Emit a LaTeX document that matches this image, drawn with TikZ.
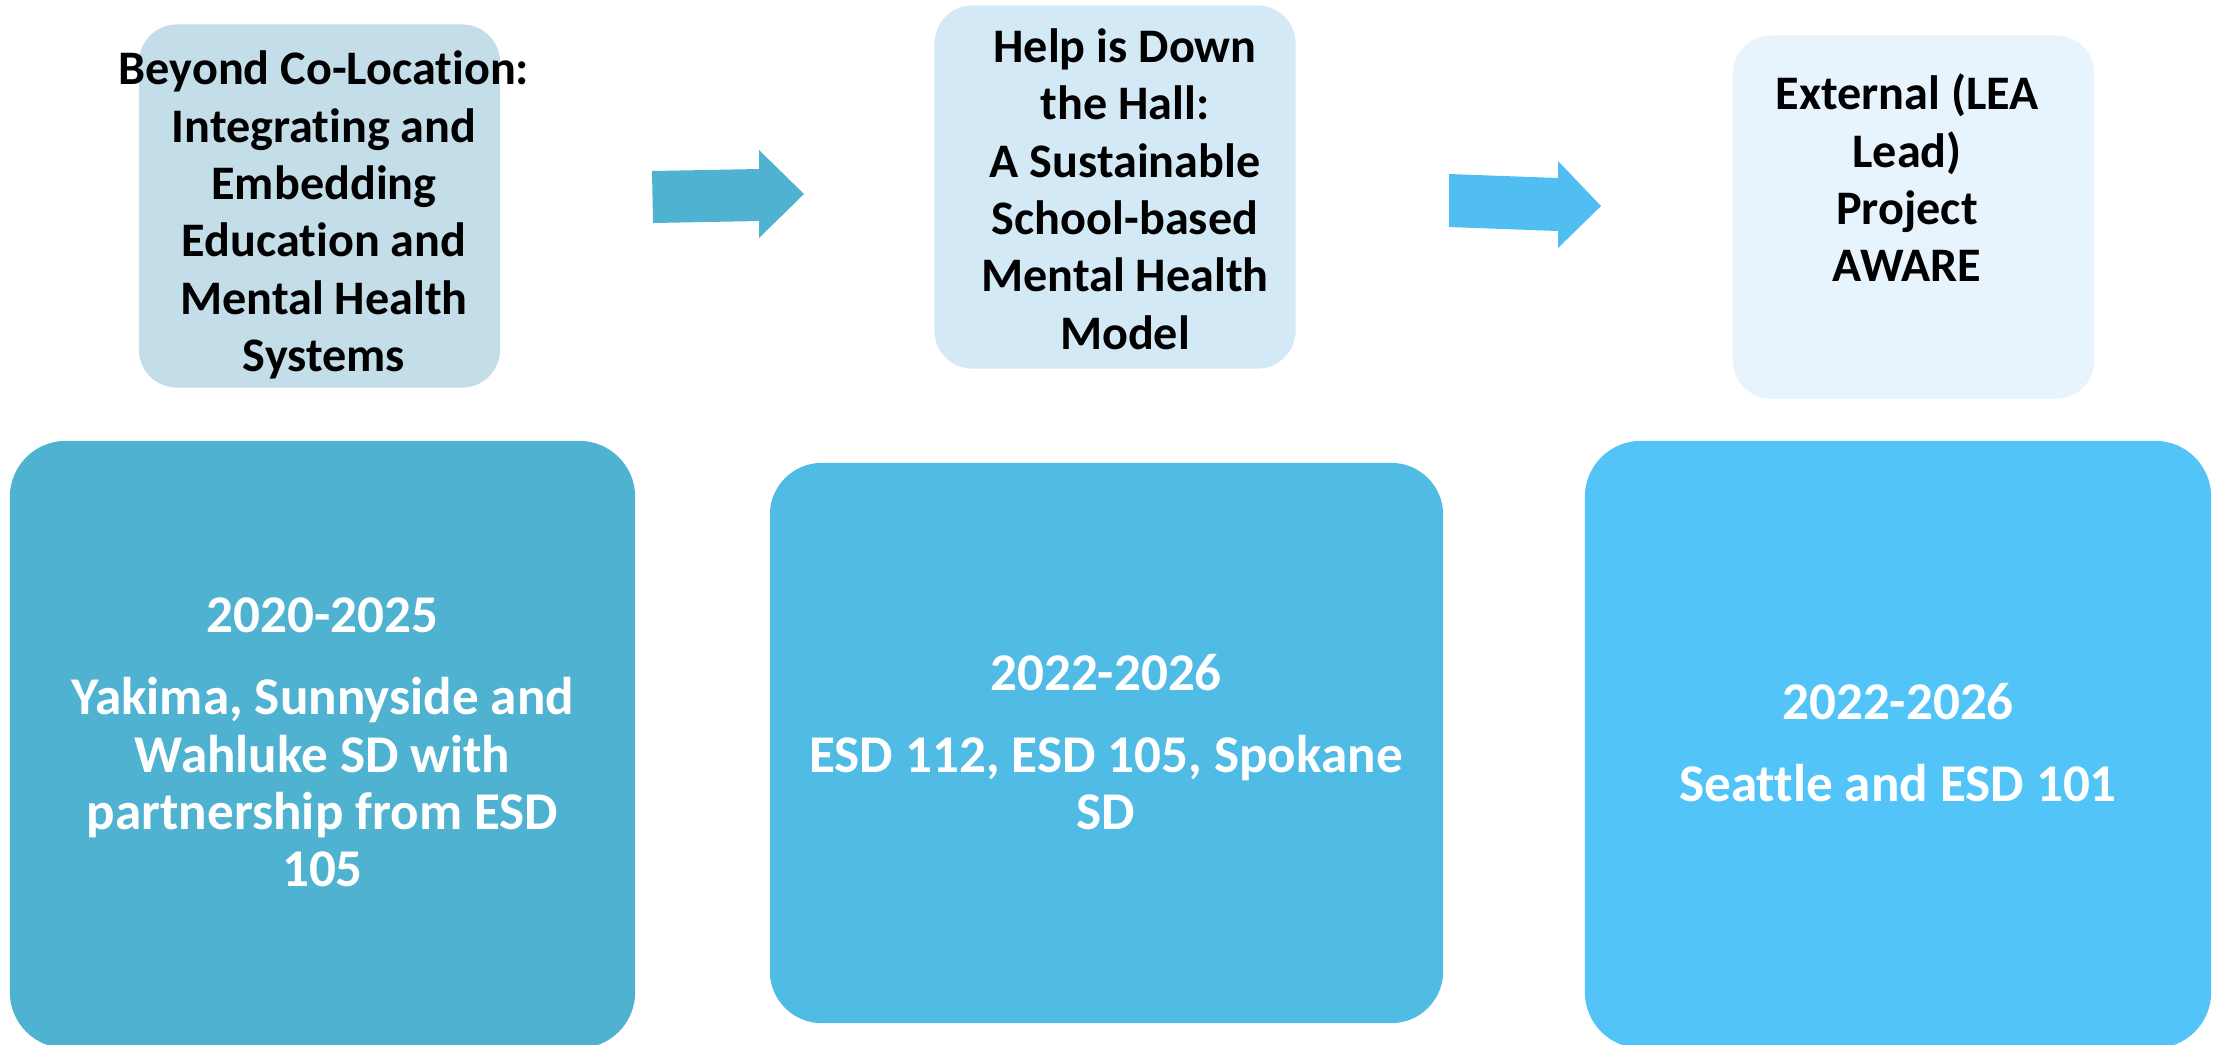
\documentclass[tikz,border=0pt]{standalone}
\usepackage{fontspec}
\setmainfont{Carlito}[Ligatures=CommonOff]
\usepackage{xcolor}
\usepackage{tikz}
\usetikzlibrary{positioning}
\definecolor{stageone}{HTML}{C3DDE9}
\definecolor{stagetwo}{HTML}{D3EAF6}
\definecolor{stagethree}{HTML}{E7F3FD}
\definecolor{siteone}{HTML}{4FB2D0}
\definecolor{sitetwo}{HTML}{50BBE4}
\definecolor{sitethree}{HTML}{52C4F8}
\tikzset{
  stagebox/.style={rounded corners=3.8mm,inner sep=0pt,minimum width=3.61cm,minimum height=3.63cm},
  sitebox/.style={rounded corners=5.6mm,inner sep=0pt},
  stagetext/.style={align=center,inner sep=0pt,text=black,font=\fontsize{13.7}{16.3}\selectfont\bfseries},
  sitetext/.style={align=center,inner sep=0pt,text=white,font=\fontsize{15.1}{16.3}\selectfont\bfseries}
}

\begin{document}
\begin{tikzpicture}[x=0.01cm,y=-0.01cm]
  \useasboundingbox (0,0) rectangle (2219,1044);
  % programme names
  \node[stagebox,fill=stageone] (s1) at (319.5,206) {};
  \node[stagebox,fill=stagetwo] (s2) at (1115,187) {};
  \node[stagebox,fill=stagethree] (s3) at (1913.5,217) {};
  \node[stagetext] (t1) at (324,215) {Beyond Co-Location:\\Integrating and\\Embedding\\Education and\\Mental Health\\Systems};
  \node[stagetext] (t2) at (1125,189) {Help is Down\\the Hall:\\A Sustainable\\School-based\\Mental Health\\Model};
  \node[stagetext] (t3) at (1907,178) {External (LEA\\Lead)\\Project\\AWARE};
  % block arrows between them
  \fill[siteone] (652,171) -- (759,169) -- (759,150) -- (804,194) -- (759,238) -- (759,221) -- (653,223) -- cycle;
  \fill[sitethree!97!black] (1449,174) -- (1558,178) -- (1558,161) -- (1601,206) -- (1558,248) -- (1558,231) -- (1449,227) -- cycle;
  % years and districts
  \node[sitebox,fill=siteone,minimum width=6.25cm,minimum height=6.07cm] (d1) at (322.5,744.5) {};
  \node[sitebox,fill=sitetwo,minimum width=6.73cm,minimum height=5.6cm,rounded corners=5.2mm] (d2) at (1106.5,743) {};
  \node[sitebox,fill=sitethree,minimum width=6.26cm,minimum height=6.07cm] (d3) at (1898,744.5) {};
  \node[sitetext] (y1) at (322.5,742.5) {2020-2025\\[7pt]Yakima, Sunnyside and\\Wahluke SD with\\partnership from ESD\\105};
  \node[sitetext] (y2) at (1106,742) {2022-2026\\[7pt]ESD 112, ESD 105, Spokane\\SD};
  \node[sitetext] (y3) at (1898,743) {2022-2026\\[7pt]Seattle and ESD 101};
\end{tikzpicture}
\end{document}
